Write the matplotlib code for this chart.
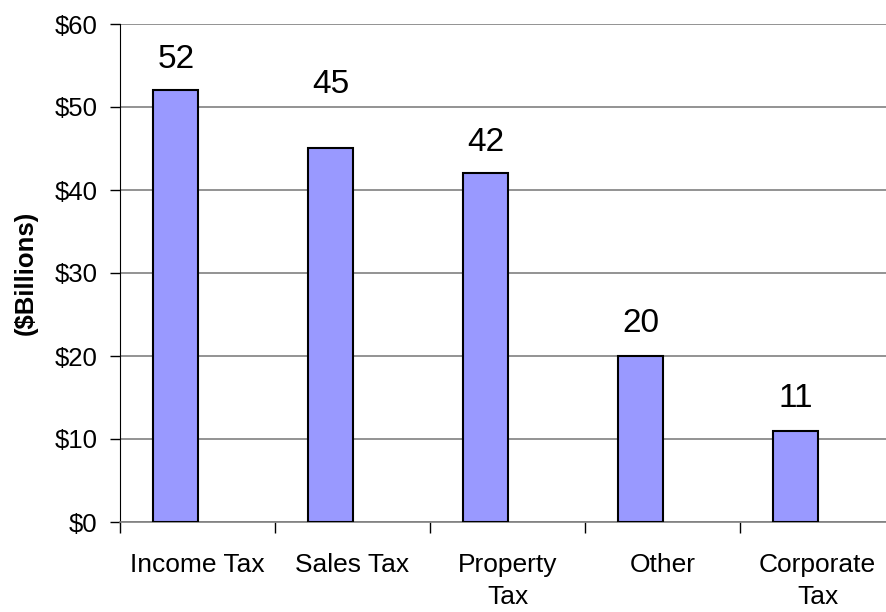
import numpy as np
import matplotlib
matplotlib.use('Agg')
import matplotlib.pyplot as plt
from matplotlib.ticker import FixedLocator, FuncFormatter

plt.rcParams['font.family'] = ['Liberation Sans', 'DejaVu Sans']

# data
categories = ['Income Tax', 'Sales Tax', 'Property\nTax', 'Other', 'Corporate\nTax']
values = [52, 45, 42, 20, 11]
yticks = [0, 10, 20, 30, 40, 50, 60]
# label offset above bar (points); the "45" label sits higher in the original
label_offsets = [16, 40, 16, 17, 17]

fig = plt.figure(figsize=(8.86, 6.12), dpi=100)
ax = fig.add_axes([120/886, 90/612, 775/886, 498/612])

x = np.arange(len(categories))
# bars sit left of the category centre (Excel style, empty second series)
ax.bar(x - 0.14, values, width=0.29, color='#9999FF', edgecolor='black',
       linewidth=1.5, zorder=3)

for xi, v, off in zip(x, values, label_offsets):
    ax.annotate(str(v), (xi - 0.14, v), xytext=(0, off), textcoords='offset points',
                ha='center', va='baseline', fontsize=24)

ax.set_xlim(-0.5, len(categories) - 0.5)
ax.set_ylim(0, 60)

ax.yaxis.set_major_locator(FixedLocator(yticks))
ax.yaxis.set_major_formatter(FuncFormatter(lambda v, p: '${:d}'.format(int(v))))
ax.grid(axis='y', color='#808080', linewidth=1.2, zorder=0)

ax.set_xticks(x)
ax.set_xticklabels(categories, fontsize=19, linespacing=1.45)
ax.set_xticks(np.arange(len(categories) + 1) - 0.5, minor=True)
ax.tick_params(axis='x', which='major', length=0, pad=22)
ax.tick_params(axis='x', which='minor', length=8, width=1, direction='out')
ax.tick_params(axis='y', labelsize=18.5, length=7, width=1, pad=9)

for side in ['top', 'right']:
    ax.spines[side].set_visible(False)
ax.spines['left'].set_color('black')
ax.spines['bottom'].set_color('#808080')
ax.spines['bottom'].set_linewidth(1.2)

ax.set_ylabel('($Billions)', fontsize=18.5, fontweight='bold', labelpad=12)

fig.savefig('out.png', dpi=100)
